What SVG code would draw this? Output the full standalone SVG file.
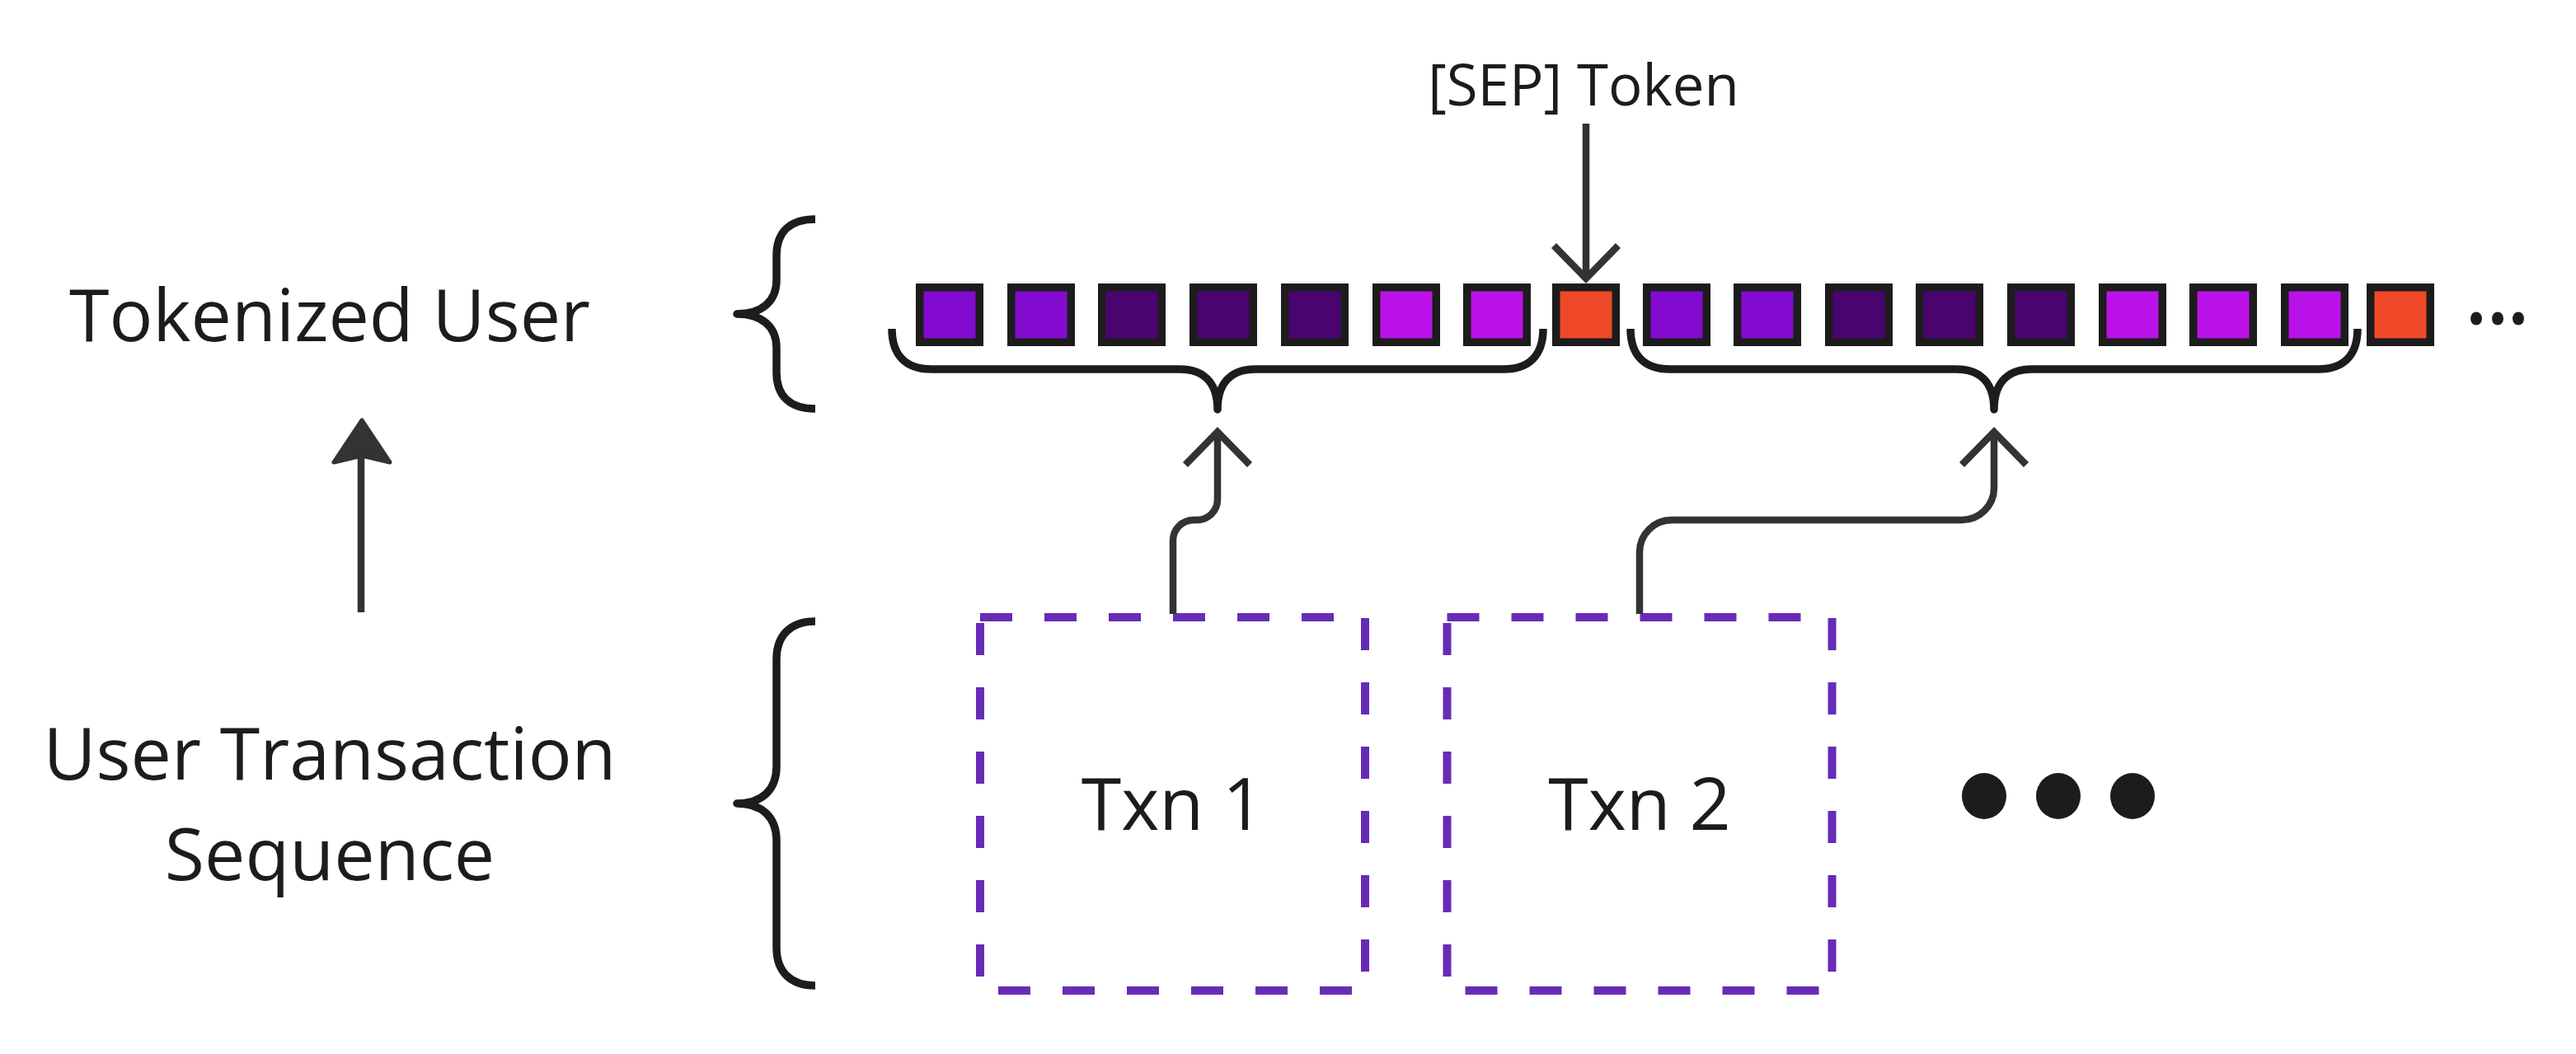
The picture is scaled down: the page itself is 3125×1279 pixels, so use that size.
<svg xmlns="http://www.w3.org/2000/svg" width="3125" height="1279" viewBox="0 0 3125 1279">
<style>
.lbl{font-family:"Open Sans","Liberation Sans",sans-serif;fill:#1c1c1c;text-anchor:middle}
.big{font-size:88px}
.sm{font-size:69px}
.brace{fill:none;stroke:#1c1c1c;stroke-width:9.5;stroke-linecap:butt;stroke-linejoin:round}
.tok{stroke:#1c1c1c;stroke-width:9.5}
.v{fill:#830bcf}
.d{fill:#4a0470}
.m{fill:#bb11e9}
.s{fill:#ef4828}
.box{fill:none;stroke:#672cb5;stroke-width:10;stroke-dasharray:39 39}
.conn{fill:none;stroke:#333333;stroke-width:8.5}
.dot{fill:#1c1c1c}
</style>
<defs>
<marker id="chev" markerUnits="userSpaceOnUse" markerWidth="100" markerHeight="100" refX="0" refY="0" orient="auto" overflow="visible">
<path d="M-40,-39 L0,0 L-40,39" fill="none" stroke="#333333" stroke-width="8.5" stroke-linejoin="miter"/>
</marker>
</defs>
<rect x="0" y="0" width="3125" height="1279" fill="#ffffff"/>

<g id="label-tokenized-user">
<text class="lbl big" x="400" y="414">Tokenized User</text>
</g>
<g id="label-user-transaction-sequence">
<text class="lbl big" x="400" y="946">User Transaction</text>
<text class="lbl big" x="400" y="1068">Sequence</text>
</g>
<g id="brace-left-top">
<path class="brace" d="M989 266 C960 266 942 280 942 310 V340 C942 365 925 381 894 381 C925 381 942 397 942 422 V452 C942 482 960 496 989 496"/>
</g>
<g id="brace-left-bottom">
<path class="brace" d="M989 754 C960 754 942 770 942 800 V930 C942 958 925 975 894 975 C925 975 942 992 942 1020 V1150 C942 1180 960 1196 989 1196"/>
</g>
<g id="label-sep-token">
<text class="lbl sm" x="1921" y="128">[SEP] Token</text>
</g>
<g id="tokens">
<rect class="tok v" x="1115.75" y="348.75" width="72.5" height="66.5"/>
<rect class="tok v" x="1226.75" y="348.75" width="72.5" height="66.5"/>
<rect class="tok d" x="1336.75" y="348.75" width="72.5" height="66.5"/>
<rect class="tok d" x="1447.75" y="348.75" width="72.5" height="66.5"/>
<rect class="tok d" x="1558.75" y="348.75" width="72.5" height="66.5"/>
<rect class="tok m" x="1669.75" y="348.75" width="72.5" height="66.5"/>
<rect class="tok m" x="1779.75" y="348.75" width="72.5" height="66.5"/>
<rect class="tok s" x="1887.75" y="348.75" width="72.5" height="66.5"/>
<rect class="tok v" x="1997.75" y="348.75" width="72.5" height="66.5"/>
<rect class="tok v" x="2107.75" y="348.75" width="72.5" height="66.5"/>
<rect class="tok d" x="2218.75" y="348.75" width="72.5" height="66.5"/>
<rect class="tok d" x="2328.75" y="348.75" width="72.5" height="66.5"/>
<rect class="tok d" x="2439.75" y="348.75" width="72.5" height="66.5"/>
<rect class="tok m" x="2550.75" y="348.75" width="72.5" height="66.5"/>
<rect class="tok m" x="2660.75" y="348.75" width="72.5" height="66.5"/>
<rect class="tok m" x="2771.75" y="348.75" width="72.5" height="66.5"/>
<rect class="tok s" x="2875.75" y="348.75" width="72.5" height="66.5"/>
</g>
<g id="token-ellipsis">
<ellipse class="dot" cx="3004" cy="386.5" rx="7" ry="8"/>
<ellipse class="dot" cx="3030" cy="386.5" rx="7" ry="8"/>
<ellipse class="dot" cx="3055" cy="386.5" rx="7" ry="8"/>
</g>
<g id="brace-txn1">
<path class="brace" d="M1082 399 C1082 430 1098 448 1130 448 H1431 C1465 448 1477 470 1477 497 C1477 470 1489 448 1523 448 H1824 C1856 448 1872 430 1872 399"/>
</g>
<g id="brace-txn2">
<path class="brace" d="M1978 399 C1978 430 1994 448 2026 448 H2373 C2407 448 2419 470 2419 497 C2419 470 2431 448 2465 448 H2812 C2844 448 2860 430 2860 399"/>
</g>
<g id="txn1">
<rect class="box" x="1189" y="749" width="467" height="453"/>
<text class="lbl big" x="1422.5" y="1007">Txn 1</text>
</g>
<g id="txn2">
<rect class="box" x="1755.5" y="749" width="467" height="453"/>
<text class="lbl big" x="1989" y="1007">Txn 2</text>
</g>
<g id="txn-ellipsis">
<ellipse class="dot" cx="2407" cy="966" rx="27" ry="28"/>
<ellipse class="dot" cx="2497" cy="966" rx="27" ry="28"/>
<ellipse class="dot" cx="2587" cy="966" rx="27" ry="28"/>
</g>

<g id="connectors">
<path class="conn" d="M438 743 V552"/>
<path d="M439 510 L405 561 L439 553 L473 561 Z" fill="#333333" stroke="#333333" stroke-width="5" stroke-linejoin="round"/>
<path class="conn" d="M1924 150 V338" marker-end="url(#chev)"/>
<path class="conn" d="M1423 745 V656 A25 25 0 0 1 1448 631 H1452 A25 25 0 0 0 1477 606 V524" marker-end="url(#chev)"/>
<path class="conn" d="M1989 745 V670 A39 39 0 0 1 2028 631 H2380 A39 39 0 0 0 2419 592 V524" marker-end="url(#chev)"/>
</g>
</svg>
